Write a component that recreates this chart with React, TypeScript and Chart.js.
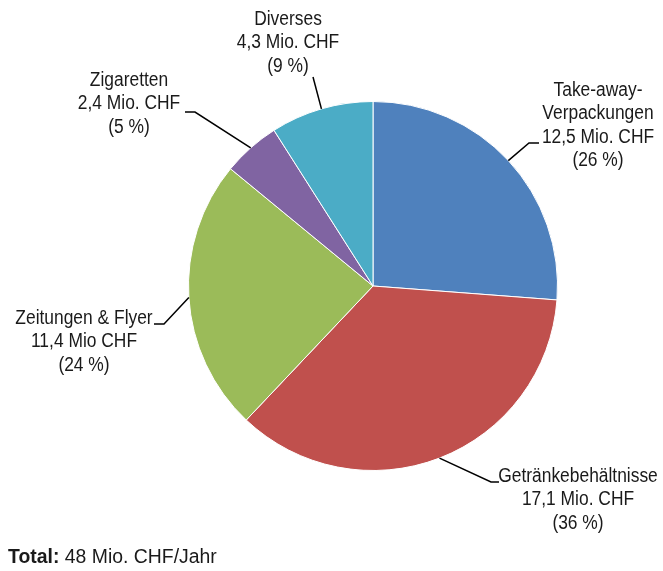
import React, { useEffect, useRef } from 'react';
import { Chart, registerables } from 'chart.js';

Chart.register(...registerables);

const categories = ['Take-away-\nVerpackungen', 'Getränkebehältnisse', 'Zeitungen & Flyer', 'Zigaretten', 'Diverses'];
const values = [12.5, 17.1, 11.4, 2.4, 4.3];
const valueLabels = ['12,5 Mio. CHF', '17,1 Mio. CHF', '11,4 Mio CHF', '2,4 Mio. CHF', '4,3 Mio. CHF'];
const percentLabels = ['(26 %)', '(36 %)', '(24 %)', '(5 %)', '(9 %)'];
const colors = ['#4F81BD', '#C0504D', '#9BBB59', '#8064A2', '#4BACC6'];
const totalBold = 'Total:';
const totalText = '48 Mio. CHF/Jahr';

const FONT = '"Liberation Sans Narrow", "Arial Narrow", "Liberation Sans", Arial, sans-serif';
const FONT_SIZE = 20;
const SCALE_X = 0.87;
const LINE_H = 23.3;

// layout of label blocks (elbow point, leader end, text centre x, first baseline y)
const labelLayout = [
  { elbow: [529, 143], end: [539, 143], tx: 598, ty: 96 },
  { elbow: [491, 482], end: [499, 482], tx: 578, ty: 482 },
  { elbow: [164, 324], end: [154, 324], tx: 84, ty: 324 },
  { elbow: [195, 112], end: [185, 112], tx: 129, ty: 86 },
  { elbow: [313, 77], end: [313, 77], tx: 288, ty: 25 },
];

function drawScaled(ctx: CanvasRenderingContext2D, t: string, x: number, y: number, sx: number) {
  ctx.save();
  ctx.translate(x, y);
  ctx.scale(sx, 1);
  ctx.fillText(t, 0, 0);
  ctx.restore();
}

const labelPlugin = {
  id: 'pieLabels',
  afterDraw(chart: any) {
    const ctx: CanvasRenderingContext2D = chart.ctx;
    const meta = chart.getDatasetMeta(0);
    ctx.save();
    meta.data.forEach((arc: any, i: number) => {
      const { x, y, startAngle, endAngle, outerRadius } = arc.getProps(['x', 'y', 'startAngle', 'endAngle', 'outerRadius'], true);
      const mid = (startAngle + endAngle) / 2;
      const ax = x + Math.cos(mid) * outerRadius;
      const ay = y + Math.sin(mid) * outerRadius;
      const L = labelLayout[i];
      ctx.strokeStyle = '#000';
      ctx.lineWidth = 1.5;
      ctx.beginPath();
      ctx.moveTo(ax, ay);
      ctx.lineTo(L.elbow[0], L.elbow[1]);
      ctx.lineTo(L.end[0], L.end[1]);
      ctx.stroke();
      const lines = [...categories[i].split('\n'), valueLabels[i], percentLabels[i]];
      ctx.fillStyle = '#1a1a1a';
      ctx.font = `${FONT_SIZE}px ${FONT}`;
      ctx.textAlign = 'center';
      ctx.textBaseline = 'alphabetic';
      lines.forEach((t, k) => drawScaled(ctx, t, L.tx, L.ty + k * LINE_H, SCALE_X));
    });
    ctx.textAlign = 'left';
    ctx.textBaseline = 'alphabetic';
    const ts = 0.97;
    ctx.font = `bold ${FONT_SIZE}px ${FONT}`;
    ctx.fillStyle = '#1a1a1a';
    drawScaled(ctx, totalBold, 8, 563, ts);
    const w = ctx.measureText(totalBold + ' ').width * ts;
    ctx.font = `${FONT_SIZE}px ${FONT}`;
    drawScaled(ctx, totalText, 8 + w, 563, ts);
    ctx.restore();
  },
};

export default function App() {
  const ref = useRef<HTMLCanvasElement>(null);
  useEffect(() => {
    const chart = new Chart(ref.current!, {
      type: 'pie',
      data: {
        labels: categories.map((c) => c.replace('\n', '')),
        datasets: [
          {
            data: values,
            backgroundColor: colors,
            borderColor: '#ffffff',
            borderWidth: 1,
          },
        ],
      },
      options: {
        responsive: false,
        animation: false,
        devicePixelRatio: 1,
        layout: { padding: { top: 101, bottom: 100, left: 188, right: 105 } },
        plugins: { legend: { display: false }, tooltip: { enabled: false } },
      },
      plugins: [labelPlugin],
    });
    return () => chart.destroy();
  }, []);
  return (
    <div style={{ position: 'absolute', left: 0, top: 0, width: 663, height: 571, background: '#fff' }}>
      <canvas ref={ref} width={663} height={571} />
    </div>
  );
}
